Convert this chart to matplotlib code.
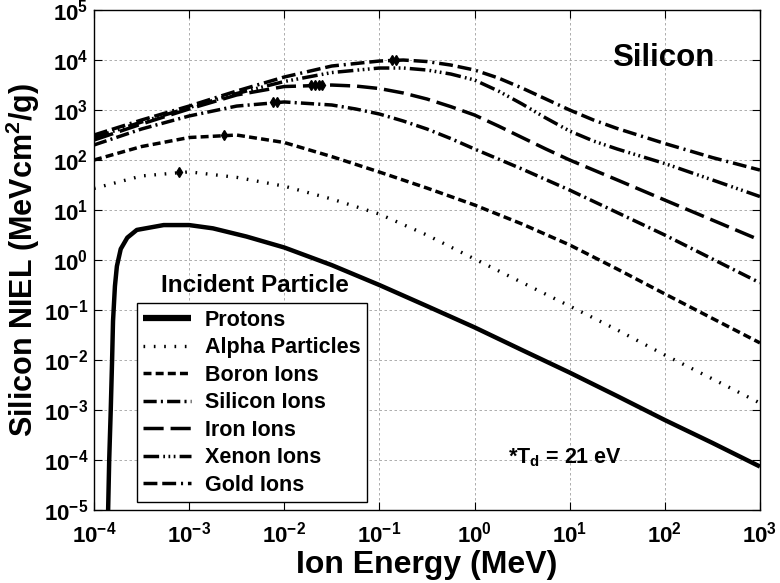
import matplotlib
matplotlib.use("Agg")
import matplotlib.pyplot as plt
from matplotlib.ticker import LogLocator, NullLocator

plt.rcParams['font.family'] = ['Liberation Sans', 'DejaVu Sans']
plt.rcParams['font.weight'] = 'bold'
plt.rcParams['mathtext.fontset'] = 'custom'
plt.rcParams['mathtext.rm'] = 'Liberation Sans:bold'
plt.rcParams['mathtext.bf'] = 'Liberation Sans:bold'
plt.rcParams['mathtext.default'] = 'bf'
plt.rcParams['axes.unicode_minus'] = False

# ion energies (MeV) and NIEL in silicon (MeV cm^2/g)
energy_alpha = [1e-4, 3.16e-4, 1e-3, 3.16e-3, 1e-2, 3.16e-2, 1e-1, 3.16e-1,
                1e0, 3.16e0, 1e1, 3.16e1, 1e2, 3.16e2, 1e3]
niel_alpha = [27, 48, 58, 45, 30, 16.6, 8.3, 3.16, 1.05, 0.355, 0.12,
              0.04, 0.0126, 0.0042, 0.00138]

energy_boron = [1e-4, 3.16e-4, 1e-3, 3.16e-3, 1e-2, 3.16e-2, 1e-1, 3.16e-1,
                1e0, 3.16e0, 1e1, 3.16e1, 1e2, 3.16e2, 1e3]
niel_boron = [100, 186, 282, 316, 224, 117, 57.5, 27.5, 12.6, 5.25, 2.0,
              0.66, 0.21, 0.068, 0.022]

energy_silicon = [1e-4, 3.16e-4, 1e-3, 3.16e-3, 1e-2, 3.16e-2, 5.62e-2,
                  1e-1, 1.78e-1, 3.16e-1, 5.62e-1, 1e0, 3.16e0, 1e1,
                  3.16e1, 1e2, 3.16e2, 1e3]
niel_silicon = [200, 417, 760, 1200, 1450, 1260, 1050, 832, 603, 417, 269,
                166, 66, 25, 8.9, 3.16, 1.05, 0.35]

energy_iron = [1e-4, 3.16e-4, 1e-3, 3.16e-3, 1e-2, 3.16e-2, 5.62e-2, 1e-1,
               1.78e-1, 3.16e-1, 5.62e-1, 1e0, 1.78e0, 3.16e0, 5.62e0, 1e1,
               3.16e1, 1e2, 3.16e2, 1e3]
niel_iron = [251, 525, 1050, 2000, 2950, 3160, 3020, 2690, 2190, 1660,
             1170, 794, 479, 282, 166, 100, 40, 15.8, 6.3, 2.5]

energy_xenon = [1e-4, 3.16e-4, 1e-3, 3.16e-3, 1e-2, 3.16e-2, 1e-1, 1.78e-1,
                3.16e-1, 5.62e-1, 1e0, 1.78e0, 3.16e0, 5.62e0, 1e1, 1.78e1,
                3.16e1, 1e2, 3.16e2, 1e3]
niel_xenon = [282, 575, 1120, 2140, 3720, 5620, 6920, 6920, 6310, 5250,
              3980, 2400, 1320, 692, 380, 240, 166, 85, 40, 18.6]

energy_gold = [1e-4, 3.16e-4, 1e-3, 3.16e-3, 1e-2, 3.16e-2, 1e-1, 1.78e-1,
               3.16e-1, 5.62e-1, 1e0, 1.78e0, 3.16e0, 5.62e0, 1e1, 1.78e1,
               3.16e1, 1e2, 3.16e2, 1e3]
niel_gold = [316, 631, 1200, 2400, 4570, 7590, 9550, 10000, 9330, 7940,
             6310, 4370, 2750, 1660, 1000, 631, 427, 214, 112, 63]

# protons have a sharp threshold near 150 eV
energy_p = [1.40e-4, 1.445e-4, 1.50e-4, 1.55e-4, 1.585e-4, 1.66e-4, 1.74e-4,
            1.91e-4, 2.24e-4, 2.82e-4, 5.4e-4, 1e-3, 1.78e-3, 4e-3, 1e-2,
            3.16e-2, 1e-1, 3.16e-1, 1e0, 3.16e0, 1e1, 3.16e1, 1e2,
            3.16e2, 1e3]
niel_protons = [6e-6, 1e-4, 1e-3, 1e-2, 6e-2, 0.3, 0.75, 1.66, 2.8, 4.0,
                5.0, 5.0, 4.3, 2.95, 1.78, 0.79, 0.316, 0.12, 0.045,
                0.0158, 0.0056, 0.0019, 0.00063, 0.00022, 0.000074]

# markers at the curve maxima
peak_e_alpha = [7.9e-4]
peak_n_alpha = [58]
peak_e_boron = [2.3e-3]
peak_n_boron = [316]
peak_e_silicon = [7.6e-3, 8.3e-3]
peak_n_silicon = [1420, 1420]
peak_e_iron = [1.9e-2, 2.1e-2, 2.3e-2, 2.5e-2]
peak_n_iron = [3160, 3160, 3160, 3160]
peak_e_gold = [1.35e-1, 1.5e-1]
peak_n_gold = [9800, 9800]

labels = ['Protons', 'Alpha Particles', 'Boron Ions', 'Silicon Ions',
          'Iron Ions', 'Xenon Ions', 'Gold Ions']

fig = plt.figure(figsize=(7.8, 5.83), dpi=100)
ax = fig.add_axes([0.1205, 0.1252, 0.8538, 0.8576])

lw = 2.5
ax.plot(energy_p, niel_protons, color='k', lw=3.2, solid_capstyle='butt',
        label=labels[0])
ax.plot(energy_alpha, niel_alpha, color='k', lw=2.4, dashes=(0.5, 2.6),
        label=labels[1])
ax.plot(energy_boron, niel_boron, color='k', lw=lw, dashes=(2.3, 1.2),
        label=labels[2])
ax.plot(energy_silicon, niel_silicon, color='k', lw=lw,
        dashes=(3.8, 1.2, 0.6, 1.2), label=labels[3])
ax.plot(energy_iron, niel_iron, color='k', lw=lw, dashes=(5.8, 2.0),
        label=labels[4])
ax.plot(energy_xenon, niel_xenon, color='k', lw=lw,
        dashes=(4.5, 1.2, 0.5, 1.0, 0.5, 1.0, 0.5, 1.2), label=labels[5])
ax.plot(energy_gold, niel_gold, color='k', lw=lw,
        dashes=(4.0, 1.4, 4.0, 1.4, 0.6, 1.4), label=labels[6])

for pe, pn in [(peak_e_alpha, peak_n_alpha), (peak_e_boron, peak_n_boron),
               (peak_e_silicon, peak_n_silicon), (peak_e_iron, peak_n_iron),
               (peak_e_gold, peak_n_gold)]:
    ax.plot(pe, pn, linestyle='none', marker='d', ms=5, color='k')

ax.set_xscale('log')
ax.set_yscale('log')
ax.set_xlim(1e-4, 1e3)
ax.set_ylim(1e-5, 1e5)
ax.xaxis.set_major_locator(LogLocator(base=10, numticks=20))
ax.yaxis.set_major_locator(LogLocator(base=10, numticks=20))
ax.xaxis.set_minor_locator(NullLocator())
ax.yaxis.set_minor_locator(NullLocator())
ax.tick_params(which='major', direction='in', length=6, width=0.8,
               top=True, right=True, labelsize=16)
ax.tick_params(axis='x', pad=8)
ax.tick_params(axis='y', pad=4)
ax.grid(True, color='#a0a0a0', linestyle=(0, (3, 3)), linewidth=0.6)
for sp in ax.spines.values():
    sp.set_linewidth(1.0)

ax.set_xlabel('Ion Energy (MeV)', fontsize=23, fontweight='bold', labelpad=2)
ax.set_ylabel('Silicon NIEL (MeVcm$^2$/g)', fontsize=22, fontweight='bold')
ax.yaxis.set_label_coords(-0.078, 0.5)

ax.text(0.855, 0.905, 'Silicon', transform=ax.transAxes, fontsize=22.5,
        fontweight='bold', ha='center', va='center')
ax.text(0.793, 0.104, '*T$_\\mathbf{d}$ = 21 eV', transform=ax.transAxes,
        fontsize=15.5, fontweight='bold', ha='right', va='center')
ax.text(0.242, 0.45, 'Incident Particle', transform=ax.transAxes,
        fontsize=17.5, fontweight='bold', ha='center', va='center')

leg = ax.legend(loc='lower left', bbox_to_anchor=(0.0646, 0.016),
                fontsize=15.5, handlelength=2.2, handletextpad=0.65,
                labelspacing=0.3, borderpad=0.3, borderaxespad=0,
                fancybox=False, framealpha=1, edgecolor='k')
leg.get_frame().set_linewidth(1.0)
leg.get_lines()[0].set_linewidth(4.5)

fig.savefig('out.png', dpi=100)
